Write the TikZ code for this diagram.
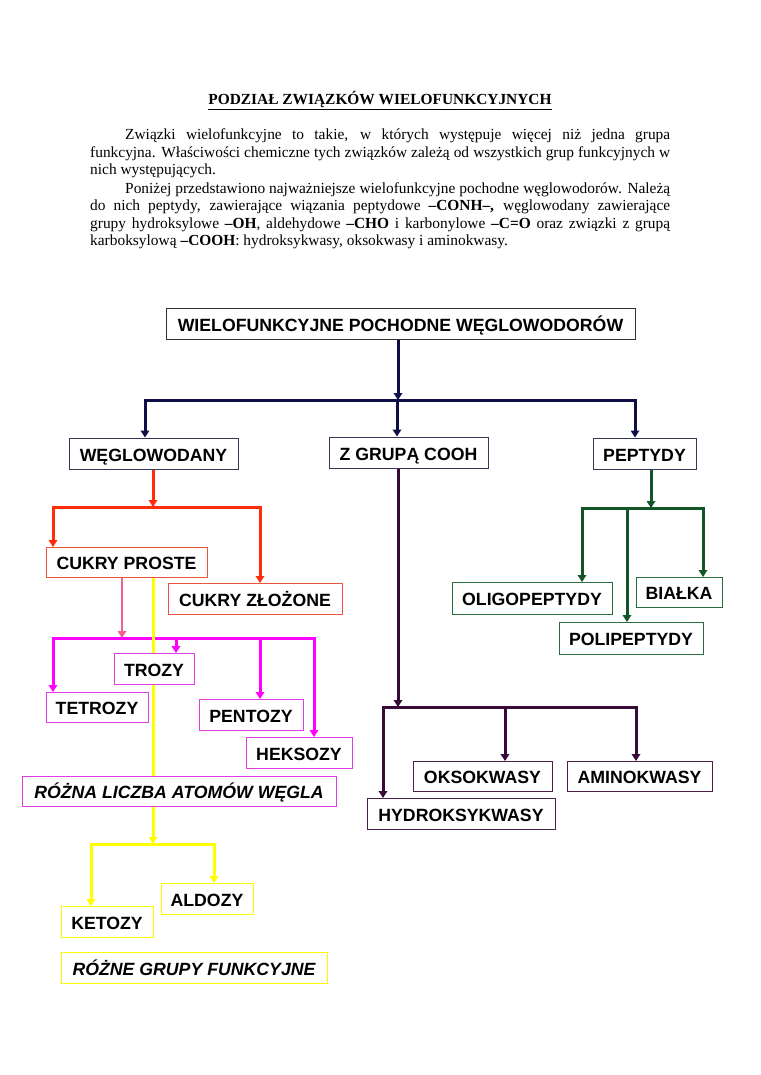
\documentclass[tikz,border=0pt]{standalone}
\usepackage{fontspec}
\setmainfont{Liberation Serif}
\newfontfamily\arialf{Liberation Sans}
\usetikzlibrary{arrows.meta}
\definecolor{cnavy}{RGB}{15,15,70}
\definecolor{cred}{RGB}{255,45,10}
\definecolor{cpink}{RGB}{245,95,145}
\definecolor{cmag}{RGB}{255,0,255}
\definecolor{cyel}{RGB}{255,255,0}
\definecolor{cgreen}{RGB}{20,85,40}
\definecolor{cpurp}{RGB}{55,10,55}
\definecolor{broot}{RGB}{50,50,50}
\definecolor{bnavy}{RGB}{55,55,85}
\definecolor{bred}{RGB}{235,85,60}
\definecolor{bmag}{RGB}{225,60,225}
\definecolor{byel}{RGB}{250,250,0}
\definecolor{bgreen}{RGB}{40,110,60}
\definecolor{bpurp}{RGB}{75,30,75}
\tikzset{
  boxnode/.style={draw, fill=white, line width=1pt, inner sep=0pt, text=black,
    text height=15.7pt, text depth=0pt,
    font=\arialf\bfseries\fontsize{17.7}{20}\selectfont, minimum height=31pt},
  italbox/.style={font=\arialf\bfseries\itshape\fontsize{17.7}{20}\selectfont},
  conn/.style={line width=3pt},
  hbar/.style={line width=3pt, line cap=rect},
  arr/.style={-{Triangle[length=7pt,width=8.5pt]}},
  bodyline/.style={anchor=base west, inner sep=0pt, font=\fontsize{15.4}{18}\selectfont}
}
\begin{document}
\begin{tikzpicture}[x=1pt,y=-1pt]
\useasboundingbox (0,0) rectangle (760,1075);
% ---------- text ----------
\node[anchor=base, inner sep=0pt, font=\bfseries\fontsize{15.4}{18}\selectfont] (title) at (380,105) {\underline{PODZIAŁ ZWIĄZKÓW WIELOFUNKCYJNYCH}};
\node[bodyline] (l1) at (125,140) {\makebox[545pt][s]{Związki wielofunkcyjne to takie, w których występuje więcej niż jedna grupa}};
\node[bodyline] (l2) at (90,158) {\makebox[580pt][s]{funkcyjna. Właściwości chemiczne tych związków zależą od wszystkich grup funkcyjnych w}};
\node[bodyline] (l3) at (90,175) {nich występujących.};
\node[bodyline] (l4) at (125,194) {\makebox[545pt][s]{Poniżej przedstawiono najważniejsze wielofunkcyjne pochodne węglowodorów. Należą}};
\node[bodyline] (l5) at (90,211) {\makebox[580pt][s]{do nich peptydy, zawierające wiązania peptydowe \textbf{–CONH–,} węglowodany zawierające}};
\node[bodyline] (l6) at (90,229) {\makebox[580pt][s]{grupy hydroksylowe \textbf{–OH}, aldehydowe \textbf{–CHO} i karbonylowe \textbf{–C=O} oraz związki z grupą}};
\node[bodyline] (l7) at (90,246) {karboksylową \textbf{–COOH}: hydroksykwasy, oksokwasy i aminokwasy.};

% ---------- coordinates ----------
\coordinate (jn) at (398,400);
\coordinate (jnL) at (145,400);
\coordinate (jnM) at (397,400);
\coordinate (jnR) at (635,400);
\coordinate (jr) at (153,507);
\coordinate (jrL) at (53,507);
\coordinate (jrR) at (260,507);
\coordinate (jp) at (122,638);
\coordinate (jmA) at (53,638);
\coordinate (jmB) at (176,638);
\coordinate (jmC) at (260,638);
\coordinate (jmD) at (314,638);
\coordinate (jy) at (153,844);
\coordinate (jyL) at (91,844);
\coordinate (jyR) at (214,844);
\coordinate (ju) at (398,707);
\coordinate (juA) at (383,707);
\coordinate (juB) at (505,707);
\coordinate (juC) at (636,707);
\coordinate (jg) at (651,508);
\coordinate (jgA) at (582,508);
\coordinate (jgB) at (627,508);
\coordinate (jgC) at (703,508);

% ---------- top level boxes ----------
\path
 node[boxnode, draw=broot, minimum width=469pt] (root) at (400.5,324) {WIELOFUNKCYJNE POCHODNE WĘGLOWODORÓW}
 node[boxnode, draw=bnavy, minimum width=169pt] (weg) at (153.5,453.5) {WĘGLOWODANY}
 node[boxnode, draw=bnavy, minimum width=159pt] (zgr) at (408.5,452.5) {Z GRUPĄ COOH}
 node[boxnode, draw=bnavy, minimum width=103pt] (pep) at (644.5,453.5) {PEPTYDY};

% ---------- connectors ----------
\draw[conn, cnavy, arr] (jn |- root.south) -- (jn);
\draw[hbar, cnavy] (jnL) -- (jnR);
\draw[conn, cnavy, arr] (jnL) -- (jnL |- weg.north);
\draw[conn, cnavy, arr] (jnM) -- (jnM |- zgr.north);
\draw[conn, cnavy, arr] (jnR) -- (jnR |- pep.north);

\coordinate (cpTop) at (126.5,547);
\coordinate (czTop) at (255,583);
\draw[conn, cred, arr] (jr |- weg.south) -- (jr);
\draw[hbar, cred] (jrL) -- (jrR);
\draw[conn, cred, arr] (jrL) -- (jrL |- cpTop);
\draw[conn, cred, arr] (jrR) -- (jrR |- czTop);

\node[boxnode, draw=bred, minimum width=161pt, minimum height=30pt] (cp) at (126.5,562) {CUKRY PROSTE};
\node[boxnode, draw=bred, minimum width=174pt] (cz) at (255,598.5) {CUKRY ZŁOŻONE};

\draw[line width=2.8pt, cpink, arr] (jp |- cp.south) -- (jp);
\draw[hbar, cmag] (jmA) -- (jmD);
\draw[conn, cmag, arr] (jmA) -- (53,692);
\draw[conn, cmag, arr] (jmB) -- (176,653);
\draw[conn, cmag, arr] (jmC) -- (260,699);
\draw[conn, cmag, arr] (jmD) -- (314,737);

\draw[conn, cyel, arr] (jy |- cp.south) -- (jy);
\draw[hbar, cyel] (jyL) -- (jyR);
\draw[conn, cyel, arr] (jyL) -- (91,906);
\draw[conn, cyel, arr] (jyR) -- (214,883);

\draw[conn, cpurp, arr] (ju |- zgr.south) -- (ju);
\draw[hbar, cpurp] (juA) -- (juC);
\draw[conn, cpurp, arr] (juA) -- (383,798);
\draw[conn, cpurp, arr] (juB) -- (505,761);
\draw[conn, cpurp, arr] (juC) -- (636,761);

\draw[conn, cgreen, arr] (jg |- pep.south) -- (jg);
\draw[hbar, cgreen] (jgA) -- (jgC);
\draw[conn, cgreen, arr] (jgA) -- (582,582);
\draw[conn, cgreen, arr] (jgB) -- (627,622);
\draw[conn, cgreen, arr] (jgC) -- (703,577);

% ---------- boxes ----------
\node[boxnode, draw=bmag, minimum width=80pt] (trozy) at (154,668.5) {TROZY};
\node[boxnode, draw=bmag, minimum width=102pt, minimum height=30pt] (tetr) at (97,707) {TETROZY};
\node[boxnode, draw=bmag, minimum width=104pt] (pent) at (251,714.5) {PENTOZY};
\node[boxnode, draw=bmag, minimum width=106pt] (heks) at (299,752.5) {HEKSOZY};
\node[boxnode, italbox, draw=bmag, minimum width=314pt, minimum height=30pt] (rozna) at (179,791) {RÓŻNA LICZBA ATOMÓW WĘGLA};

\node[boxnode, draw=byel, minimum width=92pt] (ketozy) at (107,921.5) {KETOZY};
\node[boxnode, draw=byel, minimum width=92pt] (aldozy) at (207,898.5) {ALDOZY};
\node[boxnode, italbox, draw=byel, minimum width=266pt] (rozne) at (194,967.5) {RÓŻNE GRUPY FUNKCYJNE};

\node[boxnode, draw=bgreen, minimum width=160pt, minimum height=32pt] (oligo) at (532,598) {OLIGOPEPTYDY};
\node[boxnode, draw=bgreen, minimum width=86pt, minimum height=30pt] (bialka) at (679,592) {BIAŁKA};
\node[boxnode, draw=bgreen, minimum width=144pt, minimum height=32pt] (poli) at (631,638) {POLIPEPTYDY};

\node[boxnode, draw=bpurp, minimum width=139pt, minimum height=30pt] (oks) at (482.5,776) {OKSOKWASY};
\node[boxnode, draw=bpurp, minimum width=145pt, minimum height=30pt] (amino) at (639.5,776) {AMINOKWASY};
\node[boxnode, draw=bpurp, minimum width=188pt] (hydro) at (461,813.5) {HYDROKSYKWASY};
\end{tikzpicture}
\end{document}
